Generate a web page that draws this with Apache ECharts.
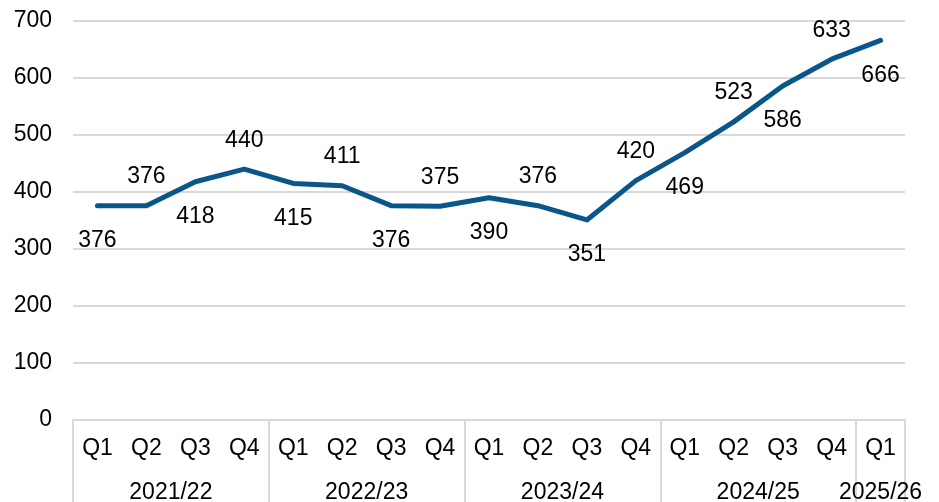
<!DOCTYPE html>
<html><head><meta charset="utf-8">
<script src="https://cdn.jsdelivr.net/npm/echarts@6/dist/echarts.min.js"></script>
<style>html,body{margin:0;padding:0;background:#fff}#c{width:939px;height:502px}</style>
</head><body><div id="c"></div>
<script>
const quarters = ['Q1','Q2','Q3','Q4','Q1','Q2','Q3','Q4','Q1','Q2','Q3','Q4','Q1','Q2','Q3','Q4','Q1'];
const years = ['2021/22','2022/23','2023/24','2024/25','2025/26'];
const yearSizes = [4,4,4,4,1];
const values = [376,376,418,440,415,411,376,375,390,376,351,420,469,523,586,633,666];
const labelPos = ['bottom','top','bottom','top','bottom','top','bottom','top','bottom','top','bottom','top','bottom','top','bottom','top','bottom'];
const yTicks = {min:0, max:700, interval:100};

// Build half-step year axis (boundaries and centers)
const total = yearSizes.reduce((a,b)=>a+b,0)*2;
const yearAxis = new Array(total+1).fill('');
const boundaries = [0];
let pos = 0;
years.forEach((y,i)=>{ yearAxis[pos + yearSizes[i]] = y; pos += yearSizes[i]*2; boundaries.push(pos); });

const FONT = 'Liberation Sans, Arial, sans-serif';
const FS = 23;
const chart = echarts.init(document.getElementById('c'));
chart.setOption({
  animation:false,
  grid:{left:73,right:34,top:21,bottom:82,containLabel:false,outerBoundsMode:'none'},
  xAxis:[
    {type:'category',data:quarters,position:'bottom',boundaryGap:true,
     axisLine:{show:true,lineStyle:{color:'#d9d9d9',width:2}},
     axisTick:{show:false},
     axisLabel:{interval:0,margin:17,color:'#000',fontSize:FS,fontFamily:FONT}},
    {type:'category',data:yearAxis,position:'bottom',boundaryGap:false,
     axisLine:{show:false},
     axisTick:{show:true,length:84,interval:(idx)=>boundaries.includes(idx),lineStyle:{color:'#d9d9d9',width:2}},
     axisLabel:{interval:0,margin:61,color:'#000',fontSize:FS,fontFamily:FONT}}
  ],
  yAxis:{type:'value',min:yTicks.min,max:yTicks.max,interval:yTicks.interval,
     axisLine:{show:false},axisTick:{show:false},
     splitLine:{lineStyle:{color:'#d9d9d9',width:2}},
     axisLabel:{margin:21,color:'#000',fontSize:FS,fontFamily:FONT}},
  series:[{type:'line',xAxisIndex:0,
     data:values.map((v,i)=>({value:v,label:{position:labelPos[i]}})),
     symbol:'circle',symbolSize:1,showSymbol:true,
     itemStyle:{color:'rgba(0,0,0,0)',borderWidth:0},
     lineStyle:{color:'#0B5689',width:5,cap:'round',join:'round'},
     label:{show:true,distance:20,offset:[0,3],color:'#000',fontSize:FS,fontFamily:FONT}
  }]
});
</script></body></html>
